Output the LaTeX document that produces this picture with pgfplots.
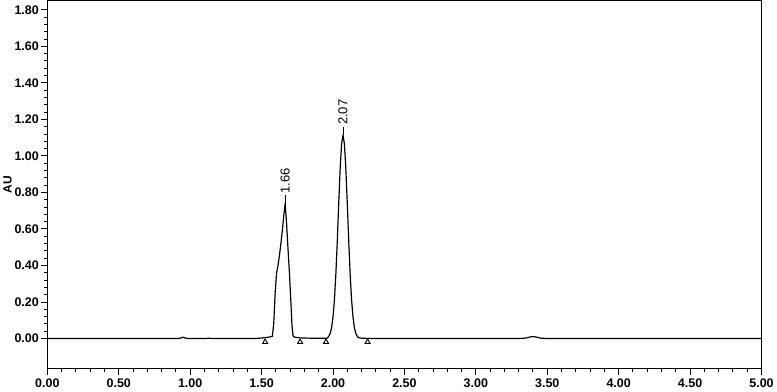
\documentclass[border=0pt]{standalone}
\usepackage{pgfplots}
\pgfplotsset{compat=1.18}
\usepackage{fontspec}
\setmainfont{Liberation Sans}
\begin{document}
\begin{tikzpicture}
\begin{axis}[
  scale only axis,
  width=716pt, height=369pt,
  xmin=0, xmax=5, ymin=-0.165, ymax=1.85,
  xtick={0,0.5,...,5.01}, ytick={0,0.2,...,1.81},
  minor x tick num=4, minor y tick num=4,
  tick align=outside, tick pos=left,
  major tick length=6pt, minor tick length=3.5pt,
  every tick/.style={black, line width=1pt},
  axis line style={line width=1.3pt},
  /pgf/number format/.cd, fixed, fixed zerofill, precision=2, assume math mode=true,
  /pgfplots/.cd,
  tick label style={font=\fontsize{12.5}{14}\selectfont\bfseries},
  ylabel={AU}, ylabel style={font=\fontsize{12}{14}\selectfont\bfseries, yshift=-4pt},
  xticklabel style={yshift=-1pt},
  yticklabel style={xshift=1pt},
  clip=false,
]
\addplot[black, line width=1.2pt, line join=round] coordinates {
(0,0) (0.90,0) (0.93,0.002) (0.95,0.008) (0.97,0.002) (1.00,0) (1.10,0) (1.13,0.002) (1.16,0)
(1.45,0) (1.50,0.003) (1.55,0.008) (1.575,0.012) (1.585,0.08) (1.595,0.25) (1.605,0.36)
(1.615,0.40) (1.625,0.455) (1.635,0.52) (1.645,0.59) (1.655,0.67) (1.665,0.74)
(1.675,0.63) (1.685,0.49) (1.695,0.36) (1.705,0.20) (1.713,0.07) (1.72,0.015) (1.73,0.008)
(1.77,0.004) (1.85,0.002) (1.95,0.002)
(1.96,0.003) (1.97,0.012) (1.98,0.028) (1.99,0.059) (2.00,0.117) (2.01,0.213) (2.02,0.354)
(2.03,0.535) (2.04,0.738) (2.05,0.928) (2.06,1.065) (2.07,1.115) (2.08,1.065) (2.09,0.928)
(2.10,0.738) (2.11,0.535) (2.12,0.354) (2.13,0.213) (2.14,0.117) (2.15,0.059) (2.16,0.028)
(2.17,0.012) (2.18,0.005) (2.20,0.002) (2.30,0)
(3.30,0) (3.35,0.003) (3.38,0.009) (3.40,0.011) (3.42,0.009) (3.45,0.003) (3.50,0) (5.00,0)
};
\addplot[only marks, mark=triangle*, mark size=2.9pt, mark options={draw=black, fill=white, line width=0.9pt}] coordinates {
(1.525,-0.018) (1.770,-0.018) (1.951,-0.018) (2.242,-0.018)
};
\draw[black, line width=1pt] (axis cs:1.665,0.74) -- ++(0pt,8pt) node[rotate=90, anchor=west, inner sep=1.5pt, font=\fontsize{13}{15}\selectfont] {1.66};
\draw[black, line width=1pt] (axis cs:2.07,1.115) -- ++(0pt,8pt) node[rotate=90, anchor=west, inner sep=1.5pt, font=\fontsize{13}{15}\selectfont] {2.07};
\end{axis}
\end{tikzpicture}
\end{document}
